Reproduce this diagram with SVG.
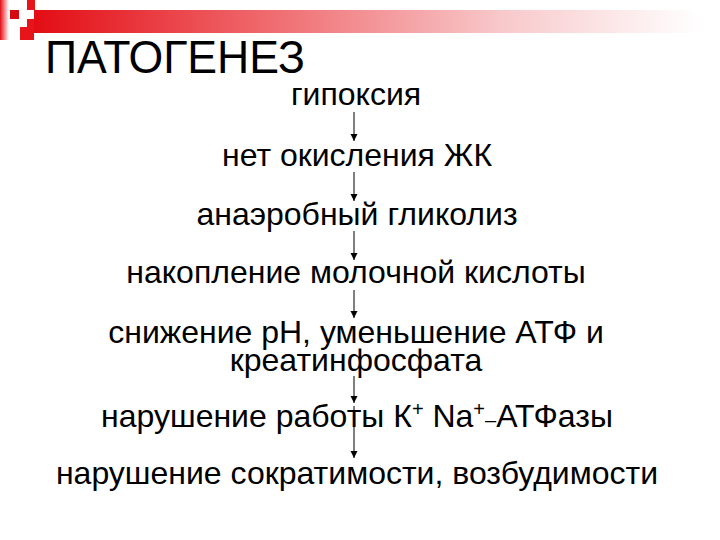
<svg xmlns="http://www.w3.org/2000/svg" width="720" height="540" viewBox="0 0 720 540">
<defs>
<linearGradient id="bar" x1="0" y1="0" x2="1" y2="0">
<stop offset="0" stop-color="#e30d14"/>
<stop offset="0.35" stop-color="#ef6a6e"/>
<stop offset="0.7" stop-color="#f8c8ca"/>
<stop offset="1" stop-color="#ffffff"/>
</linearGradient>
<linearGradient id="band" x1="0" y1="0" x2="1" y2="0">
<stop offset="0" stop-color="#e30d14"/>
<stop offset="1" stop-color="#ffffff"/>
</linearGradient>
<marker id="ah" viewBox="0 0 10 10" refX="10" refY="5" markerWidth="7" markerHeight="8" markerUnits="userSpaceOnUse" orient="auto">
<path d="M0,0 L10,5 L0,10 z" fill="#000"/>
</marker>
<style>
.t{font-family:"Liberation Sans",Arial,sans-serif;font-size:32px;fill:#000;text-anchor:middle}
.h{font-family:"Liberation Sans",Arial,sans-serif;font-size:46px;fill:#000}
.s{font-size:20px}
.c{stroke:#000;stroke-width:1;fill:none;marker-end:url(#ah)}
</style>
</defs>
<rect width="720" height="540" fill="#fff"/>
<g id="logo">
<rect x="0" y="0" width="9" height="40" fill="url(#band)"/>
<rect x="10" y="10" width="9" height="9" fill="#d40a10"/>
<rect x="27" y="0" width="8" height="10" fill="#e8141b"/>
<rect x="20" y="19" width="14" height="21" fill="#e8141b"/>
<rect x="20" y="19" width="7" height="8" fill="#fff"/>
<rect x="34" y="10" width="666" height="23" fill="url(#bar)"/>
</g>
<g id="title"><text class="h" x="45" y="73" textLength="260" lengthAdjust="spacingAndGlyphs">ПАТОГЕНЕЗ</text></g>
<g id="connectors">
<line class="c" x1="354" y1="112" x2="354" y2="141"/>
<line class="c" x1="354" y1="172" x2="354" y2="201"/>
<line class="c" x1="354" y1="231" x2="354" y2="260"/>
<line class="c" x1="354" y1="290" x2="354" y2="318"/>
<line class="c" x1="354" y1="376" x2="354" y2="403"/>
<line class="c" x1="354" y1="406" x2="354" y2="458"/>
</g>
<g id="n1"><text class="t" x="356" y="105">гипоксия</text></g>
<g id="n2"><text class="t" x="357" y="166">нет окисления ЖК</text></g>
<g id="n3"><text class="t" x="357" y="225">анаэробный гликолиз</text></g>
<g id="n4"><text class="t" x="356" y="283">накопление молочной кислоты</text></g>
<g id="n5"><text class="t" x="356" y="343">снижение рН, уменьшение АТФ и</text><text class="t" x="356" y="371">креатинфосфата</text></g>
<g id="n6"><text class="t" x="357" y="427">нарушение работы К<tspan class="s" dy="-11">+</tspan><tspan dy="11"> Na</tspan><tspan class="s" dy="-11">+</tspan><tspan class="s" dy="11">–</tspan><tspan>АТФазы</tspan></text></g>
<g id="n7"><text class="t" x="357" y="484">нарушение сократимости, возбудимости</text></g>
</svg>
